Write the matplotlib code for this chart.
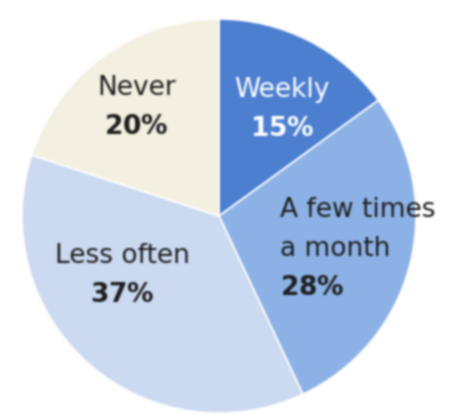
import matplotlib
matplotlib.use("Agg")
import matplotlib.pyplot as plt
import numpy as np

# Survey shares, clockwise from 12 o'clock
categories = ["Weekly", "A few times\na month", "Less often", "Never"]
shares = [15, 28, 37, 20]
colors = ["#4c7fd0", "#8db2e6", "#cbdaf1", "#f3f0e1"]
text_colors = ["white", "#1e1e1e", "#1e1e1e", "#1e1e1e"]

# label anchor (in pie radius units) and horizontal alignment per slice
label_pos = [(0.32, 0.54), (0.31, -0.17), (-0.49, -0.30), (-0.42, 0.55)]
label_ha = ["center", "left", "center", "center"]

fig = plt.figure(figsize=(4.51, 4.15), dpi=100)
ax = fig.add_axes([0, 0, 1, 1])
ax.pie(
    shares,
    colors=colors,
    startangle=90,
    counterclock=False,
    radius=1.0,
    center=(0, 0),
    wedgeprops=dict(edgecolor="white", linewidth=1.2),
)

for name, val, (x, y), ha, tc in zip(categories, shares, label_pos, label_ha, text_colors):
    ax.text(
        x, y, f"{name}\n$\\bf{{{val}\\%}}$",
        ha=ha, va="center", fontsize=19, color=tc,
        linespacing=1.65, family="DejaVu Sans", multialignment=ha,
    )

# axes span the figure; place the circle where it sits in the layout
w, h = 451, 415
cx, cy, r = 219, 216, 197
ax.set_xlim(-cx / r, (w - cx) / r)
ax.set_ylim(-(h - cy) / r, cy / r)
ax.set_aspect("equal")
ax.axis("off")

# soften the rendered image slightly
fig.canvas.draw()
img = np.asarray(fig.canvas.buffer_rgba())[..., :3].astype(float) / 255
k = np.array([1, 4, 6, 4, 1], dtype=float)
k /= k.sum()
pad = np.pad(img, ((2, 2), (2, 2), (0, 0)), mode="edge")
tmp = sum(k[i] * pad[:, i:i + img.shape[1]] for i in range(5))
soft = sum(k[i] * tmp[i:i + img.shape[0]] for i in range(5))
plt.imsave("out.png", np.clip(soft, 0, 1))
